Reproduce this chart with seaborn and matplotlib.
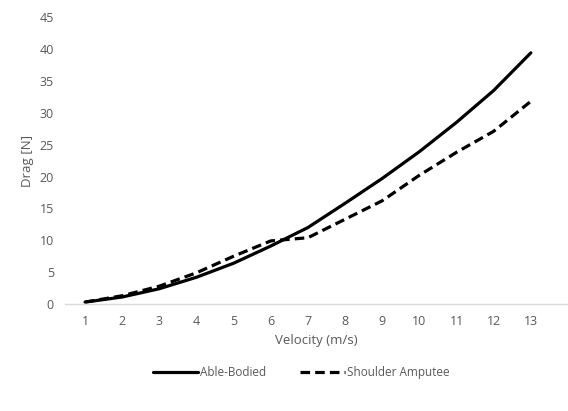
import numpy as np
import pandas as pd
import seaborn as sns
import matplotlib.pyplot as plt

sns.set_style("white")
plt.rcParams['font.family'] = ['Open Sans', 'DejaVu Sans']

velocity = [1, 2, 3, 4, 5, 6, 7, 8, 9, 10, 11, 12, 13]
able_bodied = [0.3, 1.1, 2.4, 4.2, 6.4, 9.1, 12.0, 15.8, 19.7, 23.9, 28.5, 33.5, 39.4]
shoulder_amputee = [0.3, 1.3, 2.8, 4.9, 7.5, 9.9, 10.4, 13.3, 16.2, 20.2, 23.8, 27.1, 31.8]

df = pd.DataFrame({
    'Velocity (m/s)': velocity * 2,
    'Drag [N]': able_bodied + shoulder_amputee,
    'group': ['Able-Bodied'] * len(velocity) + ['Shoulder Amputee'] * len(velocity),
})

grey = '#595959'
fig = plt.figure(figsize=(5.68, 4.11), dpi=100)
ax = fig.add_axes([0.1144, 0.2603, 0.8856, 0.698])

sns.lineplot(data=df, x='Velocity (m/s)', y='Drag [N]', hue='group', style='group',
             palette=['black', 'black'], dashes={'Able-Bodied': '', 'Shoulder Amputee': (3, 1.6)},
             linewidth=2.3, ax=ax, legend=True)

ax.set_xlim(0.46, 14.0)
ax.set_ylim(0, 45)
ax.set_xticks(velocity)
ax.set_yticks(np.arange(0, 46, 5))
ax.tick_params(axis='both', colors=grey, labelsize=9, length=0, pad=8)
for s in ['top', 'right', 'left']:
    ax.spines[s].set_visible(False)
ax.spines['bottom'].set_color('#d9d9d9')
ax.spines['bottom'].set_linewidth(1)
ax.set_xlabel('Velocity (m/s)', color=grey, fontsize=9.5, labelpad=4)
ax.set_ylabel('Drag [N]', color=grey, fontsize=9.5, labelpad=4)

handles, labels = ax.get_legend_handles_labels()
ax.legend(handles, labels, loc='upper center', bbox_to_anchor=(0.47, -0.18), ncol=2,
          frameon=False, fontsize=8.5, labelcolor=grey, handlelength=3.8,
          handletextpad=0.2, columnspacing=2.8)

plt.savefig('out.png', dpi=100)
